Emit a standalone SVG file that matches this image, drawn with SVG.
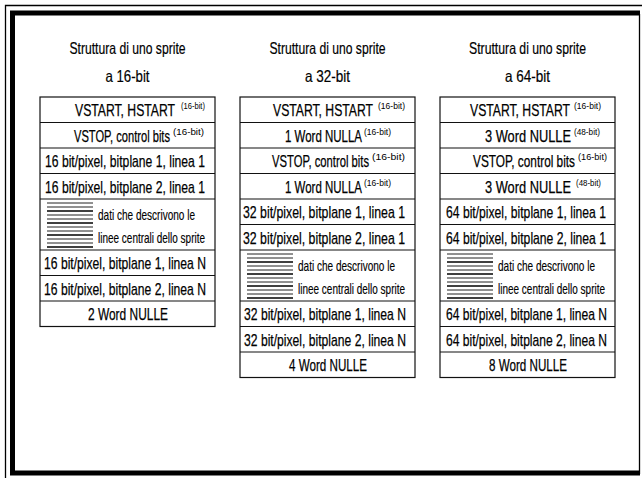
<svg xmlns="http://www.w3.org/2000/svg" width="642" height="478" viewBox="0 0 642 478">
<style>
text{font-family:"Liberation Sans Narrow","Liberation Sans",Arial,sans-serif;fill:#000}
.t{font-size:17px;stroke:#000;stroke-width:0.25}
.ti{font-size:16.5px;stroke:#000;stroke-width:0.2}
.h{font-size:15px;stroke:#000;stroke-width:0.15}
.s{font-size:9.5px}
.box{fill:#fff;stroke:#111;stroke-width:1.2}
.div{stroke:#111;stroke-width:1.2}
.hl{stroke:#222;stroke-width:1}
.hk{stroke:#000;stroke-width:1.6}
.frt{fill:none;stroke:#000;stroke-width:1.3}
.frk{fill:none;stroke:#000;stroke-width:5}
</style>
<defs>
<g id="hatch">
<line class="hl" x1="0" y1="4" x2="46" y2="4"/>
<line class="hl" x1="0" y1="8" x2="46" y2="8"/>
<line class="hk" x1="0" y1="12" x2="46" y2="12"/>
<line class="hl" x1="0" y1="16" x2="46" y2="16"/>
<line class="hl" x1="0" y1="20" x2="46" y2="20"/>
<line class="hk" x1="0" y1="24" x2="46" y2="24"/>
<line class="hl" x1="0" y1="28" x2="46" y2="28"/>
<line class="hl" x1="0" y1="32" x2="46" y2="32"/>
<line class="hk" x1="0" y1="36" x2="46" y2="36"/>
<line class="hl" x1="0" y1="40" x2="46" y2="40"/>
<line class="hl" x1="0" y1="44" x2="46" y2="44"/>
<line class="hk" x1="0" y1="48" x2="46" y2="48"/>
</g>
</defs>
<rect width="642" height="478" fill="#fff"/>
<g id="frame">
<path class="frt" d="M5.5 478 V5.5 H642"/>
<path class="frt" d="M639.5 14 V474"/>
<path class="frk" d="M640 13 H12.5 V473 H640"/>
</g>
<g id="connectors"/>

<g id="col16">
<text class="ti" x="127.5" y="54" text-anchor="middle" textLength="116" lengthAdjust="spacingAndGlyphs">Struttura di uno sprite</text>
<text class="ti" x="127.5" y="82" text-anchor="middle" textLength="44" lengthAdjust="spacingAndGlyphs">a 16-bit</text>
<rect class="box" x="40" y="97" width="175" height="229.5"/>
<line class="div" x1="40" y1="122.5" x2="215" y2="122.5"/>
<line class="div" x1="40" y1="148" x2="215" y2="148"/>
<line class="div" x1="40" y1="173.5" x2="215" y2="173.5"/>
<line class="div" x1="40" y1="199" x2="215" y2="199"/>
<line class="div" x1="40" y1="250" x2="215" y2="250"/>
<line class="div" x1="40" y1="275.5" x2="215" y2="275.5"/>
<line class="div" x1="40" y1="301" x2="215" y2="301"/>
<g id="c16r0"><text class="t" x="75" y="116" textLength="100" lengthAdjust="spacingAndGlyphs">VSTART, HSTART</text><text class="s" x="181" y="109" textLength="24" lengthAdjust="spacingAndGlyphs">(16-bit)</text></g>
<g id="c16r1"><text class="t" x="74" y="141.5" textLength="96" lengthAdjust="spacingAndGlyphs">VSTOP, control bits</text><text class="s" x="173" y="134.5" textLength="31" lengthAdjust="spacingAndGlyphs">(16-bit)</text></g>
<g id="c16r2"><text class="t" x="45" y="167" textLength="160" lengthAdjust="spacingAndGlyphs">16 bit/pixel, bitplane 1, linea 1</text></g>
<g id="c16r3"><text class="t" x="45" y="192.5" textLength="160" lengthAdjust="spacingAndGlyphs">16 bit/pixel, bitplane 2, linea 1</text></g>
<g id="c16hatch"><use href="#hatch" x="47" y="199"/>
<text class="h" x="98" y="220" textLength="97" lengthAdjust="spacingAndGlyphs">dati che descrivono le</text>
<text class="h" x="98" y="243" textLength="107" lengthAdjust="spacingAndGlyphs">linee centrali dello sprite</text></g>
<g id="c16r4"><text class="t" x="44" y="269" textLength="162" lengthAdjust="spacingAndGlyphs">16 bit/pixel, bitplane 1, linea N</text></g>
<g id="c16r5"><text class="t" x="44" y="294.5" textLength="162" lengthAdjust="spacingAndGlyphs">16 bit/pixel, bitplane 2, linea N</text></g>
<g id="c16r6"><text class="t" x="128" y="320" text-anchor="middle" textLength="80" lengthAdjust="spacingAndGlyphs">2 Word NULLE</text></g>
</g>

<g id="col32">
<text class="ti" x="327.5" y="54" text-anchor="middle" textLength="116" lengthAdjust="spacingAndGlyphs">Struttura di uno sprite</text>
<text class="ti" x="327.5" y="82" text-anchor="middle" textLength="45" lengthAdjust="spacingAndGlyphs">a 32-bit</text>
<rect class="box" x="240" y="97" width="175" height="280.5"/>
<line class="div" x1="240" y1="122.5" x2="415" y2="122.5"/>
<line class="div" x1="240" y1="148" x2="415" y2="148"/>
<line class="div" x1="240" y1="173.5" x2="415" y2="173.5"/>
<line class="div" x1="240" y1="199" x2="415" y2="199"/>
<line class="div" x1="240" y1="224.5" x2="415" y2="224.5"/>
<line class="div" x1="240" y1="250" x2="415" y2="250"/>
<line class="div" x1="240" y1="301" x2="415" y2="301"/>
<line class="div" x1="240" y1="326.5" x2="415" y2="326.5"/>
<line class="div" x1="240" y1="352" x2="415" y2="352"/>
<g id="c32r0"><text class="t" x="273" y="116" textLength="100" lengthAdjust="spacingAndGlyphs">VSTART, HSTART</text><text class="s" x="378" y="109" textLength="27" lengthAdjust="spacingAndGlyphs">(16-bit)</text></g>
<g id="c32r1"><text class="t" x="285" y="141.5" textLength="77" lengthAdjust="spacingAndGlyphs">1 Word NULLA</text><text class="s" x="364" y="134.5" textLength="27" lengthAdjust="spacingAndGlyphs">(16-bit)</text></g>
<g id="c32r2"><text class="t" x="272" y="167" textLength="97" lengthAdjust="spacingAndGlyphs">VSTOP, control bits</text><text class="s" x="372" y="160" textLength="33" lengthAdjust="spacingAndGlyphs">(16-bit)</text></g>
<g id="c32r3"><text class="t" x="285" y="192.5" textLength="77" lengthAdjust="spacingAndGlyphs">1 Word NULLA</text><text class="s" x="364" y="185.5" textLength="27" lengthAdjust="spacingAndGlyphs">(16-bit)</text></g>
<g id="c32r4"><text class="t" x="243" y="218" textLength="162" lengthAdjust="spacingAndGlyphs">32 bit/pixel, bitplane 1, linea 1</text></g>
<g id="c32r5"><text class="t" x="243" y="243.5" textLength="162" lengthAdjust="spacingAndGlyphs">32 bit/pixel, bitplane 2, linea 1</text></g>
<g id="c32hatch"><use href="#hatch" x="247" y="250"/>
<text class="h" x="298" y="271" textLength="97" lengthAdjust="spacingAndGlyphs">dati che descrivono le</text>
<text class="h" x="298" y="294" textLength="107" lengthAdjust="spacingAndGlyphs">linee centrali dello sprite</text></g>
<g id="c32r6"><text class="t" x="244" y="320" textLength="162" lengthAdjust="spacingAndGlyphs">32 bit/pixel, bitplane 1, linea N</text></g>
<g id="c32r7"><text class="t" x="244" y="345.5" textLength="162" lengthAdjust="spacingAndGlyphs">32 bit/pixel, bitplane 2, linea N</text></g>
<g id="c32r8"><text class="t" x="328" y="371" text-anchor="middle" textLength="78" lengthAdjust="spacingAndGlyphs">4 Word NULLE</text></g>
</g>

<g id="col64">
<text class="ti" x="527.5" y="54" text-anchor="middle" textLength="117" lengthAdjust="spacingAndGlyphs">Struttura di uno sprite</text>
<text class="ti" x="527.5" y="82" text-anchor="middle" textLength="45" lengthAdjust="spacingAndGlyphs">a 64-bit</text>
<rect class="box" x="440" y="97" width="175" height="280.5"/>
<line class="div" x1="440" y1="122.5" x2="615" y2="122.5"/>
<line class="div" x1="440" y1="148" x2="615" y2="148"/>
<line class="div" x1="440" y1="173.5" x2="615" y2="173.5"/>
<line class="div" x1="440" y1="199" x2="615" y2="199"/>
<line class="div" x1="440" y1="224.5" x2="615" y2="224.5"/>
<line class="div" x1="440" y1="250" x2="615" y2="250"/>
<line class="div" x1="440" y1="301" x2="615" y2="301"/>
<line class="div" x1="440" y1="326.5" x2="615" y2="326.5"/>
<line class="div" x1="440" y1="352" x2="615" y2="352"/>
<g id="c64r0"><text class="t" x="470" y="116" textLength="100" lengthAdjust="spacingAndGlyphs">VSTART, HSTART</text><text class="s" x="574" y="109" textLength="27" lengthAdjust="spacingAndGlyphs">(16-bit)</text></g>
<g id="c64r1"><text class="t" x="485" y="141.5" textLength="86" lengthAdjust="spacingAndGlyphs">3 Word NULLE</text><text class="s" x="574" y="134.5" textLength="26" lengthAdjust="spacingAndGlyphs">(48-bit)</text></g>
<g id="c64r2"><text class="t" x="473" y="167" textLength="102" lengthAdjust="spacingAndGlyphs">VSTOP, control bits</text><text class="s" x="578" y="160" textLength="29" lengthAdjust="spacingAndGlyphs">(16-bit)</text></g>
<g id="c64r3"><text class="t" x="485" y="192.5" textLength="86" lengthAdjust="spacingAndGlyphs">3 Word NULLE</text><text class="s" x="576" y="185.5" textLength="25" lengthAdjust="spacingAndGlyphs">(48-bit)</text></g>
<g id="c64r4"><text class="t" x="446" y="218" textLength="160" lengthAdjust="spacingAndGlyphs">64 bit/pixel, bitplane 1, linea 1</text></g>
<g id="c64r5"><text class="t" x="446" y="243.5" textLength="160" lengthAdjust="spacingAndGlyphs">64 bit/pixel, bitplane 2, linea 1</text></g>
<g id="c64hatch"><use href="#hatch" x="447" y="250"/>
<text class="h" x="498" y="271" textLength="97" lengthAdjust="spacingAndGlyphs">dati che descrivono le</text>
<text class="h" x="498" y="294" textLength="107" lengthAdjust="spacingAndGlyphs">linee centrali dello sprite</text></g>
<g id="c64r6"><text class="t" x="446" y="320" textLength="161" lengthAdjust="spacingAndGlyphs">64 bit/pixel, bitplane 1, linea N</text></g>
<g id="c64r7"><text class="t" x="446" y="345.5" textLength="161" lengthAdjust="spacingAndGlyphs">64 bit/pixel, bitplane 2, linea N</text></g>
<g id="c64r8"><text class="t" x="528" y="371" text-anchor="middle" textLength="78" lengthAdjust="spacingAndGlyphs">8 Word NULLE</text></g>
</g>
</svg>
